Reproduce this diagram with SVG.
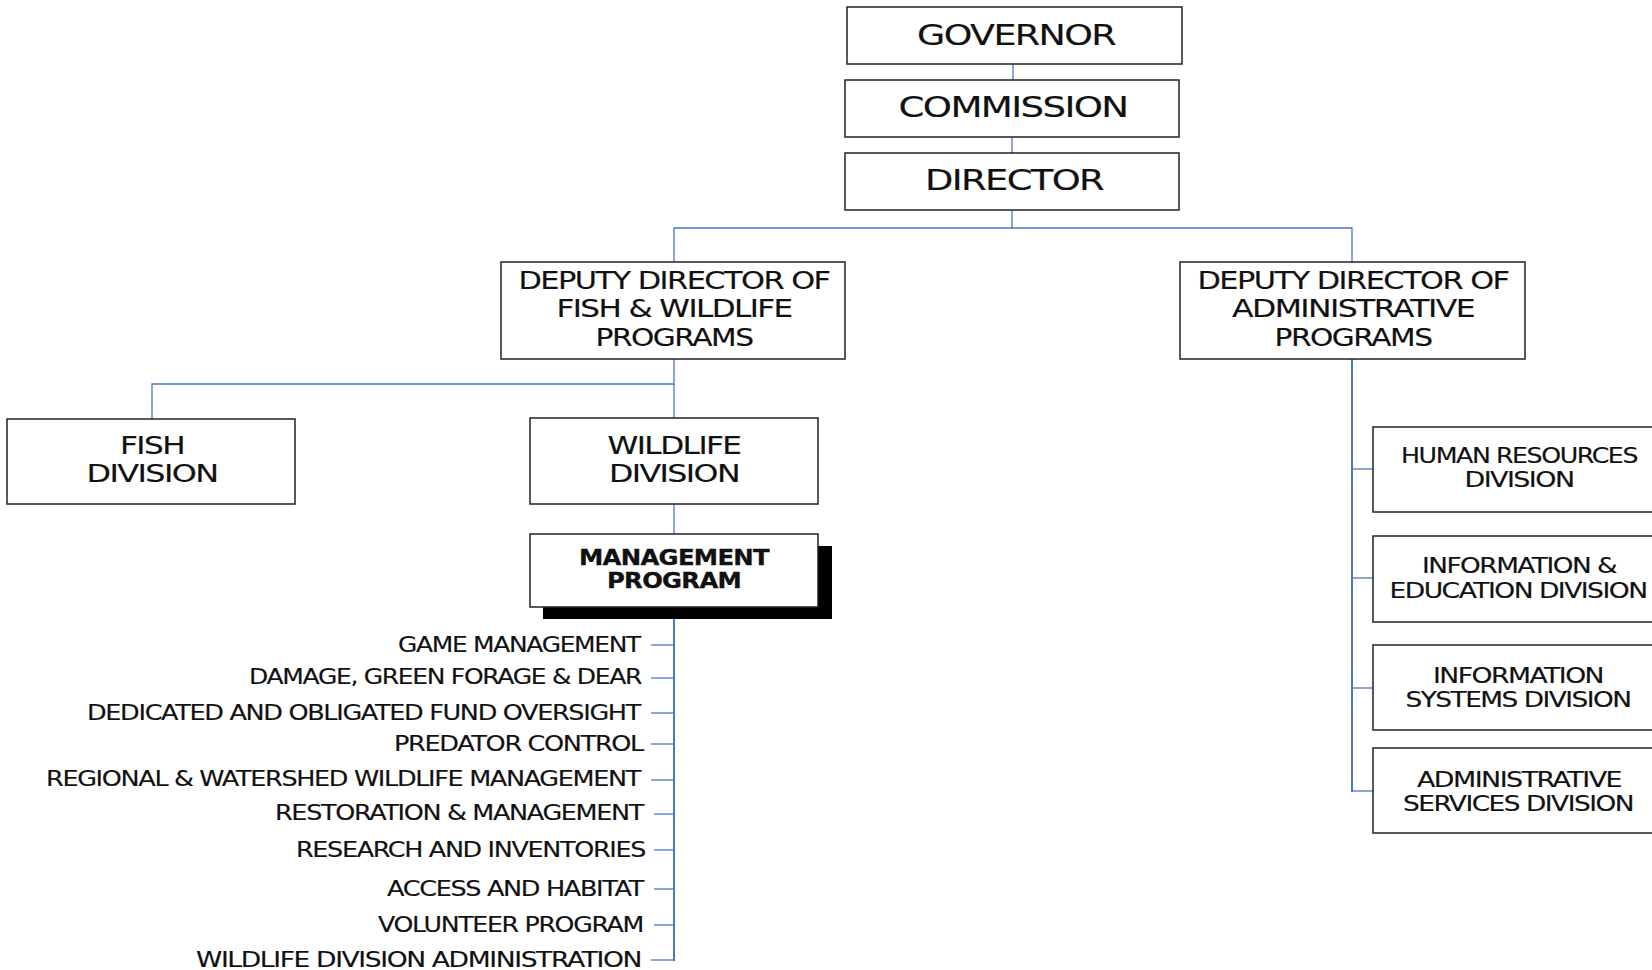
<svg xmlns="http://www.w3.org/2000/svg" width="1652" height="970" viewBox="0 0 1652 970">
<style>
  .box { fill: #ffffff; stroke: #222222; stroke-width: 1.5; }
  .shadow { fill: #000000; }
  .t { font-family: "DejaVu Sans", Verdana, sans-serif; fill: #111111; stroke: #111111; stroke-width: 0.15; letter-spacing: -1.2px; }
  .big { font-size: 27.5px; }
  .mid { font-size: 24px; }
  .sm { font-size: 21px; }
  .bold { font-size: 20.5px; font-weight: bold; letter-spacing: -0.6px; stroke-width: 0.3; }
  .item { font-family: "DejaVu Sans", Verdana, sans-serif; font-size: 21px; fill: #111111; stroke: #111111; stroke-width: 0.15; letter-spacing: -1.1px; }
  .ln { stroke: #4a78c6; stroke-width: 1.3; fill: none; }
  .lnb { stroke: #4a78c6; stroke-width: 2; fill: none; }
</style>
<rect width="1652" height="970" fill="#ffffff"/>

<g id="connectors">
  <line class="ln" x1="1013" y1="64" x2="1013" y2="80"/>
  <line class="ln" x1="1012" y1="137" x2="1012" y2="153"/>
  <polyline class="ln" points="1012,210 1012,228 674,228 674,262"/>
  <polyline class="ln" points="1012,228 1352,228 1352,262"/>
  <polyline class="ln" points="674,359 674,384 152,384 152,419"/>
  <line class="ln" x1="674" y1="384" x2="674" y2="418"/>
  <line class="ln" x1="674" y1="504" x2="674" y2="534"/>
  <line class="lnb" x1="674" y1="607" x2="674" y2="961"/>
  <line class="ln" x1="651" y1="645" x2="674" y2="645"/>
  <line class="ln" x1="651" y1="678" x2="674" y2="678"/>
  <line class="ln" x1="651" y1="713" x2="674" y2="713"/>
  <line class="ln" x1="651" y1="744" x2="674" y2="744"/>
  <line class="ln" x1="651" y1="780" x2="674" y2="780"/>
  <line class="ln" x1="654" y1="814" x2="674" y2="814"/>
  <line class="ln" x1="654" y1="850" x2="674" y2="850"/>
  <line class="ln" x1="654" y1="889" x2="674" y2="889"/>
  <line class="ln" x1="654" y1="925" x2="674" y2="925"/>
  <line class="ln" x1="651" y1="960" x2="674" y2="960"/>
  <line class="lnb" x1="1352" y1="359" x2="1352" y2="792"/>
  <line class="ln" x1="1352" y1="469" x2="1373" y2="469"/>
  <line class="ln" x1="1352" y1="578" x2="1373" y2="578"/>
  <line class="ln" x1="1352" y1="688" x2="1373" y2="688"/>
  <line class="ln" x1="1352" y1="791" x2="1373" y2="791"/>
</g>

<g id="governor">
  <rect class="box" x="847" y="7" width="335" height="57"/>
  <text class="t big" x="1016" y="45" text-anchor="middle" textLength="198" lengthAdjust="spacingAndGlyphs">GOVERNOR</text>
</g>
<g id="commission">
  <rect class="box" x="845" y="80" width="334" height="57"/>
  <text class="t big" x="1013" y="117" text-anchor="middle" textLength="229" lengthAdjust="spacingAndGlyphs">COMMISSION</text>
</g>
<g id="director">
  <rect class="box" x="845" y="153" width="334" height="57"/>
  <text class="t big" x="1014" y="190" text-anchor="middle" textLength="178" lengthAdjust="spacingAndGlyphs">DIRECTOR</text>
</g>

<g id="deputy-fw">
  <rect class="box" x="501" y="262" width="344" height="97"/>
  <text class="t mid" x="674" y="289" text-anchor="middle" textLength="311" lengthAdjust="spacingAndGlyphs">DEPUTY DIRECTOR OF</text>
  <text class="t mid" x="674" y="317" text-anchor="middle" textLength="235" lengthAdjust="spacingAndGlyphs">FISH &amp; WILDLIFE</text>
  <text class="t mid" x="674" y="346" text-anchor="middle" textLength="157" lengthAdjust="spacingAndGlyphs">PROGRAMS</text>
</g>

<g id="deputy-admin">
  <rect class="box" x="1180" y="262" width="345" height="97"/>
  <text class="t mid" x="1353" y="289" text-anchor="middle" textLength="311" lengthAdjust="spacingAndGlyphs">DEPUTY DIRECTOR OF</text>
  <text class="t mid" x="1353" y="317" text-anchor="middle" textLength="242" lengthAdjust="spacingAndGlyphs">ADMINISTRATIVE</text>
  <text class="t mid" x="1353" y="346" text-anchor="middle" textLength="157" lengthAdjust="spacingAndGlyphs">PROGRAMS</text>
</g>

<g id="fish-division">
  <rect class="box" x="7" y="419" width="288" height="85"/>
  <text class="t mid" x="152" y="454" text-anchor="middle" textLength="64" lengthAdjust="spacingAndGlyphs">FISH</text>
  <text class="t mid" x="152" y="482" text-anchor="middle" textLength="131" lengthAdjust="spacingAndGlyphs">DIVISION</text>
</g>

<g id="wildlife-division">
  <rect class="box" x="530" y="418" width="288" height="86"/>
  <text class="t mid" x="674" y="454" text-anchor="middle" textLength="133" lengthAdjust="spacingAndGlyphs">WILDLIFE</text>
  <text class="t mid" x="674" y="482" text-anchor="middle" textLength="130" lengthAdjust="spacingAndGlyphs">DIVISION</text>
</g>

<g id="management-program">
  <rect class="shadow" x="543" y="546" width="289" height="73"/>
  <rect class="box" x="530" y="534" width="288" height="73"/>
  <text class="t bold" x="674" y="565" text-anchor="middle" textLength="190" lengthAdjust="spacingAndGlyphs">MANAGEMENT</text>
  <text class="t bold" x="674" y="588" text-anchor="middle" textLength="134" lengthAdjust="spacingAndGlyphs">PROGRAM</text>
</g>

<g id="program-items">
  <text class="item" x="398" y="652" textLength="242" lengthAdjust="spacingAndGlyphs">GAME MANAGEMENT</text>
  <text class="item" x="249" y="684" textLength="392" lengthAdjust="spacingAndGlyphs">DAMAGE, GREEN FORAGE &amp; DEAR</text>
  <text class="item" x="87" y="720" textLength="553" lengthAdjust="spacingAndGlyphs">DEDICATED AND OBLIGATED FUND OVERSIGHT</text>
  <text class="item" x="394" y="751" textLength="249" lengthAdjust="spacingAndGlyphs">PREDATOR CONTROL</text>
  <text class="item" x="46" y="786" textLength="594" lengthAdjust="spacingAndGlyphs">REGIONAL &amp; WATERSHED WILDLIFE MANAGEMENT</text>
  <text class="item" x="275" y="820" textLength="368" lengthAdjust="spacingAndGlyphs">RESTORATION &amp; MANAGEMENT</text>
  <text class="item" x="296" y="857" textLength="349" lengthAdjust="spacingAndGlyphs">RESEARCH AND INVENTORIES</text>
  <text class="item" x="387" y="896" textLength="256" lengthAdjust="spacingAndGlyphs">ACCESS AND HABITAT</text>
  <text class="item" x="378" y="932" textLength="265" lengthAdjust="spacingAndGlyphs">VOLUNTEER PROGRAM</text>
  <text class="item" x="196" y="967" textLength="445" lengthAdjust="spacingAndGlyphs">WILDLIFE DIVISION ADMINISTRATION</text>
</g>

<g id="hr-division">
  <rect class="box" x="1373" y="427" width="300" height="85"/>
  <text class="t sm" x="1519" y="463" text-anchor="middle" textLength="236" lengthAdjust="spacingAndGlyphs">HUMAN RESOURCES</text>
  <text class="t sm" x="1519" y="487" text-anchor="middle" textLength="109" lengthAdjust="spacingAndGlyphs">DIVISION</text>
</g>
<g id="ie-division">
  <rect class="box" x="1373" y="536" width="300" height="86"/>
  <text class="t sm" x="1519" y="573" text-anchor="middle" textLength="194" lengthAdjust="spacingAndGlyphs">INFORMATION &amp;</text>
  <text class="t sm" x="1518" y="598" text-anchor="middle" textLength="257" lengthAdjust="spacingAndGlyphs">EDUCATION DIVISION</text>
</g>
<g id="is-division">
  <rect class="box" x="1373" y="645" width="300" height="85"/>
  <text class="t sm" x="1518" y="683" text-anchor="middle" textLength="170" lengthAdjust="spacingAndGlyphs">INFORMATION</text>
  <text class="t sm" x="1518" y="707" text-anchor="middle" textLength="225" lengthAdjust="spacingAndGlyphs">SYSTEMS DIVISION</text>
</g>
<g id="as-division">
  <rect class="box" x="1373" y="748" width="300" height="85"/>
  <text class="t sm" x="1519" y="787" text-anchor="middle" textLength="204" lengthAdjust="spacingAndGlyphs">ADMINISTRATIVE</text>
  <text class="t sm" x="1518" y="811" text-anchor="middle" textLength="230" lengthAdjust="spacingAndGlyphs">SERVICES DIVISION</text>
</g>
</svg>
